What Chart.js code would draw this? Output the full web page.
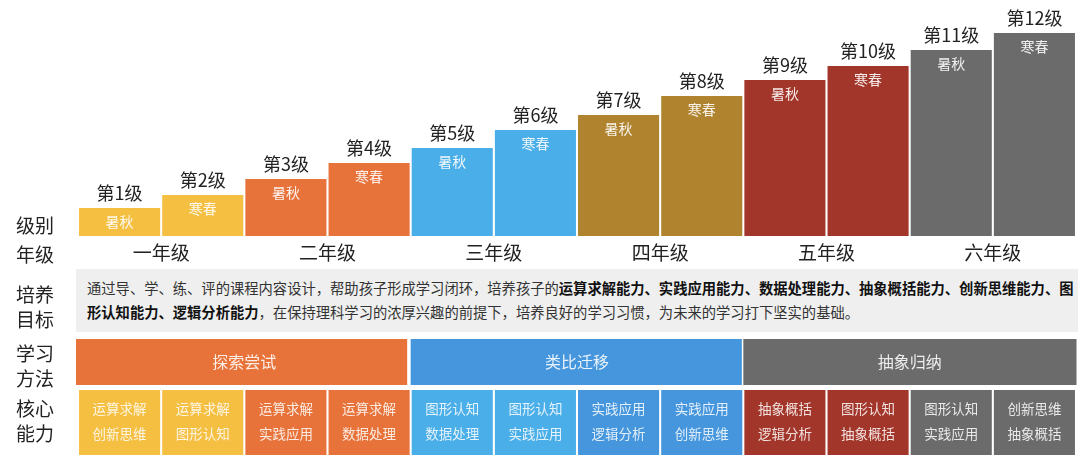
<!DOCTYPE html>
<html lang="zh-CN">
<head>
<meta charset="utf-8">
<title>课程体系</title>
<script src="https://cdn.jsdelivr.net/npm/chart.js@4/dist/chart.umd.min.js"></script>
<style>
    html, body { margin: 0; padding: 0; background: #fff; }
    #wrap { position: relative; width: 1080px; height: 460px; font-family: "Noto Sans CJK SC", "Noto Sans", sans-serif; }
    #levelChart { position: absolute; left: 0; top: 0; }
    .rowLabel { position: absolute; left: 16px; font-size: 19px; line-height: 25px; color: #222; }
    #goal {
        position: absolute; left: 76px; top: 269px; width: 1002px; height: 63px;
        background: #efefef; box-sizing: border-box; padding: 7px 0 0 11px;
        font-size: 14.3px; line-height: 24px; color: #333; white-space: nowrap;
    }
    #goal b { color: #111; }
</style>
</head>
<body>
<div id="wrap">
    <canvas id="levelChart" width="1080" height="460"></canvas>
    <div class="rowLabel" style="top:212px">级别</div>
    <div class="rowLabel" style="top:241px">年级</div>
    <div class="rowLabel" style="top:281px">培养<br>目标</div>
    <div class="rowLabel" style="top:340px">学习<br>方法</div>
    <div class="rowLabel" style="top:395px">核心<br>能力</div>
    <div id="goal">通过导、学、练、评的课程内容设计，帮助孩子形成学习闭环，培养孩子的<b>运算求解能力、实践应用能力、数据处理能力、抽象概括能力、创新思维能力、图<br>形认知能力、逻辑分析能力</b>，在保持理科学习的浓厚兴趣的前提下，培养良好的学习习惯，为未来的学习打下坚实的基础。</div>
</div>

<script>
// Data
const levels = ['第1级', '第2级', '第3级', '第4级', '第5级', '第6级',
                '第7级', '第8级', '第9级', '第10级', '第11级', '第12级'];
const levelHeights = [28, 41, 57, 73, 88, 106, 121, 140, 156, 170, 186, 203];
const terms = ['暑秋', '寒春', '暑秋', '寒春', '暑秋', '寒春',
               '暑秋', '寒春', '暑秋', '寒春', '暑秋', '寒春'];
const grades = ['一年级', '二年级', '三年级', '四年级', '五年级', '六年级'];
const methods = ['探索尝试', '类比迁移', '抽象归纳'];
const abilities = [
    ['运算求解', '创新思维'], ['运算求解', '图形认知'],
    ['运算求解', '实践应用'], ['运算求解', '数据处理'],
    ['图形认知', '数据处理'], ['图形认知', '实践应用'],
    ['实践应用', '逻辑分析'], ['实践应用', '创新思维'],
    ['抽象概括', '逻辑分析'], ['图形认知', '抽象概括'],
    ['图形认知', '实践应用'], ['创新思维', '抽象概括']
];

// Colours
const barColors = ['#f5bf42', '#f5bf42', '#e8733a', '#e8733a', '#4aaee8', '#4aaee8',
                   '#b0842f', '#b0842f', '#a3362a', '#a3362a', '#6b6b6b', '#6b6b6b'];
const methodColors = ['#e8733a', '#4596dd', '#6b6b6b'];
const abilityColors = ['#f5bf42', '#f5bf42', '#e8733a', '#e8733a', '#4aaee8', '#4aaee8',
                       '#4596dd', '#4596dd', '#a3362a', '#a3362a', '#6b6b6b', '#6b6b6b'];

const FONT = '"Noto Sans CJK SC", "Noto Sans", sans-serif';

// draws labels on bars and the rows under the chart, positioned from the x scale
const rowsPlugin = {
    id: 'rows',
    afterDatasetsDraw(chart) {
        const ctx = chart.ctx;
        const x = chart.scales.x;
        const bars = chart.getDatasetMeta(0).data;
        const catW = (x.right - x.left) / levels.length;
        ctx.save();
        ctx.textAlign = 'center';
        ctx.textBaseline = 'middle';

        // level names above, term inside
        bars.forEach(function(bar, i) {
            ctx.fillStyle = '#222';
            ctx.font = '18px ' + FONT;
            ctx.fillText(levels[i], bar.x, bar.y - 15);
            ctx.fillStyle = 'rgba(255,255,255,0.9)';
            ctx.font = '14px ' + FONT;
            ctx.fillText(terms[i], bar.x, bar.y + 14);
        });

        // grade labels, one per pair of levels
        ctx.fillStyle = '#222';
        ctx.font = '19px ' + FONT;
        grades.forEach(function(g, k) {
            const cx = (x.getPixelForValue(2 * k) + x.getPixelForValue(2 * k + 1)) / 2;
            ctx.fillText(g, cx, 253);
        });

        // learning method row, four levels each
        methods.forEach(function(m, k) {
            const left = x.getPixelForValue(4 * k) - catW / 2;
            const right = x.getPixelForValue(4 * k + 3) + catW / 2;
            ctx.fillStyle = methodColors[k];
            ctx.fillRect(left - (k === 0 ? 2 : 0), 339, right - left - 1.5 + (k === 2 ? 2 : 0), 46);
            ctx.fillStyle = 'rgba(255,255,255,0.88)';
            ctx.font = '16px ' + FONT;
            ctx.fillText(m, (left + right) / 2, 362);
        });

        // core ability cells
        bars.forEach(function(bar, i) {
            const w = bar.width;
            ctx.fillStyle = abilityColors[i];
            ctx.fillRect(bar.x - w / 2, 390, w, 65);
            ctx.fillStyle = 'rgba(255,255,255,0.85)';
            ctx.font = '13.5px ' + FONT;
            ctx.fillText(abilities[i][0], bar.x, 409);
            ctx.fillText(abilities[i][1], bar.x, 434);
        });
        ctx.restore();
    }
};

document.addEventListener('DOMContentLoaded', function() {
    const levelCtx = document.getElementById('levelChart');
    new Chart(levelCtx.getContext('2d'), {
        type: 'bar',
        data: {
            labels: levels,
            datasets: [{
                data: levelHeights,
                backgroundColor: barColors,
                borderWidth: 0,
                barPercentage: 0.975,
                categoryPercentage: 1
            }]
        },
        options: {
            responsive: false,
            animation: false,
            layout: { padding: { left: 78, right: 4, top: 0, bottom: 224 } },
            plugins: {
                legend: { display: false },
                tooltip: { enabled: false }
            },
            scales: {
                x: { display: false },
                y: { display: false, min: 0, max: 236 }
            }
        },
        plugins: [rowsPlugin]
    });
});
</script>
</body>
</html>
